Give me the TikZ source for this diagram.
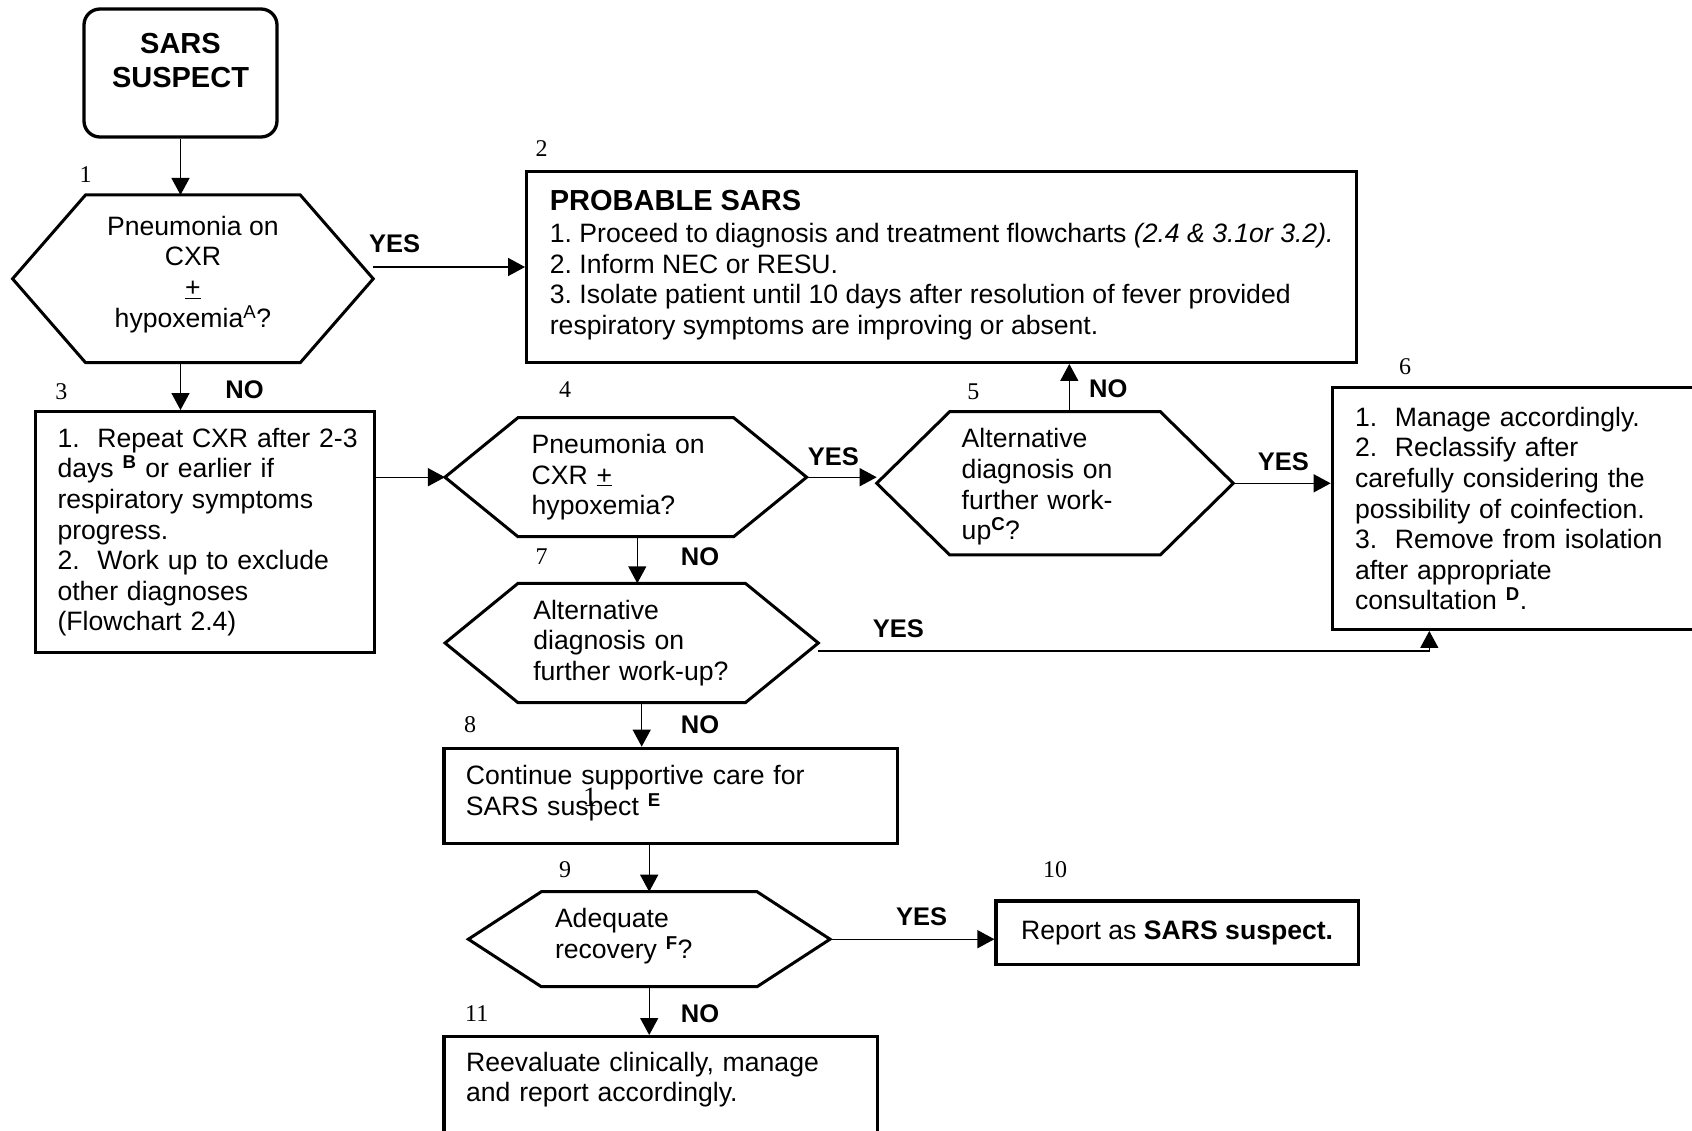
\documentclass[tikz,border=0pt]{standalone}
\usepackage{fontspec}
\setmainfont{Liberation Sans}
\newfontfamily\stepfont{Liberation Serif}
\usetikzlibrary{arrows.meta}

\begin{document}
\frenchspacing
\begin{tikzpicture}[x=1pt, y=-1pt, line width=1.4pt,
				    >={Triangle[length=17pt, width=18pt]},
				    font=\fontsize{26.6}{30.6}\selectfont,
				    box/.style={draw, line width=3.3pt, rectangle, align=left,
				    			inner ysep=0pt, text=black},
				    hexa/.style={rectangle, inner sep=0pt, outer sep=0pt, align=left},
				    num/.style={font=\stepfont\fontsize{24}{24}\selectfont, inner sep=0pt},
				    answer/.style={font=\bfseries\fontsize{25.5}{28}\selectfont, inner sep=0pt}]
	\path[use as bounding box, fill=white] (0, 0) rectangle (1692, 1130);

	\node[box, rounded corners=16pt, align=center, minimum width=193, minimum height=128,
		  font=\bfseries\fontsize{29}{34.3}\selectfont] (s0) at (180.5, 73) {SARS\\SUSPECT\\[-8.6pt]\mbox{}};
	\node[hexa, align=center, minimum width=360.7, minimum height=167.7] (s1) at (192.9, 278.8)
		{Pneumonia on\\CXR\\\underline{+}\\hypoxemia\textsuperscript{A}?\\[-16pt]\mbox{}};
	\node[box, minimum width=830, minimum height=190.6, inner xsep=20pt] (s2) at (941.7, 267)
		{{\bfseries\fontsize{29}{30.6}\selectfont PROBABLE SARS}\\[1.9pt]
		 1. Proceed to diagnosis and treatment flowcharts \textit{(2.4 \& 3.1or 3.2).}\\
		 2. Inform NEC or RESU.\\
		 3. Isolate patient until 10 days after resolution of fever provided\\
		 respiratory symptoms are improving or absent.\rule[-9.6pt]{0pt}{0pt}};
	\node[box, minimum width=338.7, minimum height=241, inner xsep=21.8pt, text width=295] (s3) at (205, 532.2)
		{\mbox{1.~~Repeat CXR after 2-3}\\ days \textsuperscript{\textbf{B}} or earlier if\\ respiratory symptoms\\ progress.\\
		 2.~~Work up to exclude\\ other diagnoses\\ (Flowchart 2.4)};
	\node[hexa, minimum width=361.7, minimum height=119, text width=188.2] (s4) at (625.8, 477.2)
		{Pneumonia on\\CXR \underline{+}\\hypoxemia?};
	\node[hexa, minimum width=356.6, minimum height=143.3, text width=186.6] (s5) at (1055, 483.3)
		{\rule{0pt}{26.5pt}Alternative\\diagnosis on\\further work-\\up\textsuperscript{\textbf{C}}?};
	\node[box, minimum width=380, minimum height=241.6, inner xsep=22.7pt, text width=334.6] (s6) at (1522.3, 508.5)
		{1.~~Manage accordingly.\\ 2.~~Reclassify after\\ carefully considering the\\ possibility of coinfection.\\
		 3.~~Remove from isolation\\ after appropriate\\ consultation \textsuperscript{\textbf{D}}.};
	\node[hexa, minimum width=373.3, minimum height=119.4, text width=196.8] (s7) at (631.7, 643)
		{Alternative\\diagnosis on\\further work-up?};
	\node[box, minimum width=453.7, minimum height=95, inner xsep=22pt, text width=409.7] (s8) at (670.8, 795.8)
		{Continue supportive care for\\ SARS suspect \textsuperscript{\textbf{E}}\rule[-11pt]{0pt}{0pt}};
	\node[hexa, minimum width=361.7, minimum height=95, text width=188.4] (s9) at (649.2, 939.2)
		{Adequate\\recovery \textsuperscript{\textbf{F}}?\rule[-12pt]{0pt}{0pt}};
	\node[box, align=center, minimum width=362.3, minimum height=63.3] (s10) at (1177.2, 932.7)
		{Report as \textbf{SARS suspect.}};
	\node[box, anchor=north, minimum width=433.3, minimum height=148, inner xsep=22pt, text width=389.3] (s11) at (660.7, 1035)
		{Reevaluate clinically, manage\\ and report accordingly.\\ \mbox{}\\[6.5pt] \mbox{}};

	% hexagon outlines
	\foreach \h in {s1, s4, s5, s7, s9}
		\draw[line width=3pt, line join=miter] ([xshift=73pt]\h.north west) -- ([xshift=-73pt]\h.north east)
			-- (\h.east) -- ([xshift=-73pt]\h.south east) -- ([xshift=73pt]\h.south west) -- (\h.west) -- cycle;

	% step numbers
	\node[num] (num1) at (85.7, 175) {1};
	\node[num] (num2) at (541.7, 149) {2};
	\node[num] (num3) at (61.4, 391.7) {3};
	\node[num] (num4) at (565, 390) {4};
	\node[num] (num5) at (973.3, 391.7) {5};
	\node[num] (num6) at (1405, 366.7) {6};
	\node[num] (num7) at (541.7, 556.7) {7};
	\node[num] (num8) at (470, 725) {8};
	\node[num] (num9) at (565, 870) {9};
	\node[num] (num10) at (1055, 870) {10};
	\node[num] (num11) at (476.7, 1013.3) {11};
	\node[num, font=\stepfont\fontsize{28}{28}\selectfont] (stray) at (590, 797) {1};

	% answers
	\node[answer] (yes1) at (394.6, 243.3) {YES};
	\node[answer] (no1) at (244.6, 390) {NO};
	\node[answer] (yes4) at (833.3, 456.7) {YES};
	\node[answer] (no4) at (700, 556.7) {NO};
	\node[answer] (no5) at (1108.3, 388.3) {NO};
	\node[answer] (yes5) at (1283.3, 461.7) {YES};
	\node[answer] (yes7) at (898.3, 628.3) {YES};
	\node[answer] (no7) at (700, 725) {NO};
	\node[answer] (yes9) at (921.7, 916.7) {YES};
	\node[answer] (no9) at (700, 1013.3) {NO};

	\path[->] 	(s0.south)  edge   (s0.south |- s1.north);
	\path[->] 	(s1.east |- s2.west)  edge   (s2.west);
	\path[->] 	(s0.south |- s1.south)  edge   (s0.south |- s3.north);
	\path[->] 	(s3.east |- s4.west)  edge   (s4.west);
	\path[->] 	(s4.east)  edge   (s4.east -| s5.west);
	\path[->] 	([xshift=14.3pt]s5.north)  edge   ([xshift=14.3pt]s5.north |- s2.south);
	\path[->] 	(s5.east)  edge   (s5.east -| s6.west);
	\path[->] 	([xshift=11.5pt]s4.south)  edge   ([xshift=11.5pt]s4.south |- s7.north);
	\draw[->] 	([yshift=-8pt]s7.east)  -|   ([xshift=-93pt]s6.south);
	\path[->] 	([xshift=10pt]s7.south)  edge   ([xshift=10pt]s7.south |- s8.north);
	\path[->] 	(s9.north |- s8.south)  edge   (s9.north);
	\path[->] 	(s9.east)  edge   (s9.east -| s10.west);
	\path[->] 	(s9.south)  edge   (s9.south |- s11.north);

\end{tikzpicture}
\end{document}
